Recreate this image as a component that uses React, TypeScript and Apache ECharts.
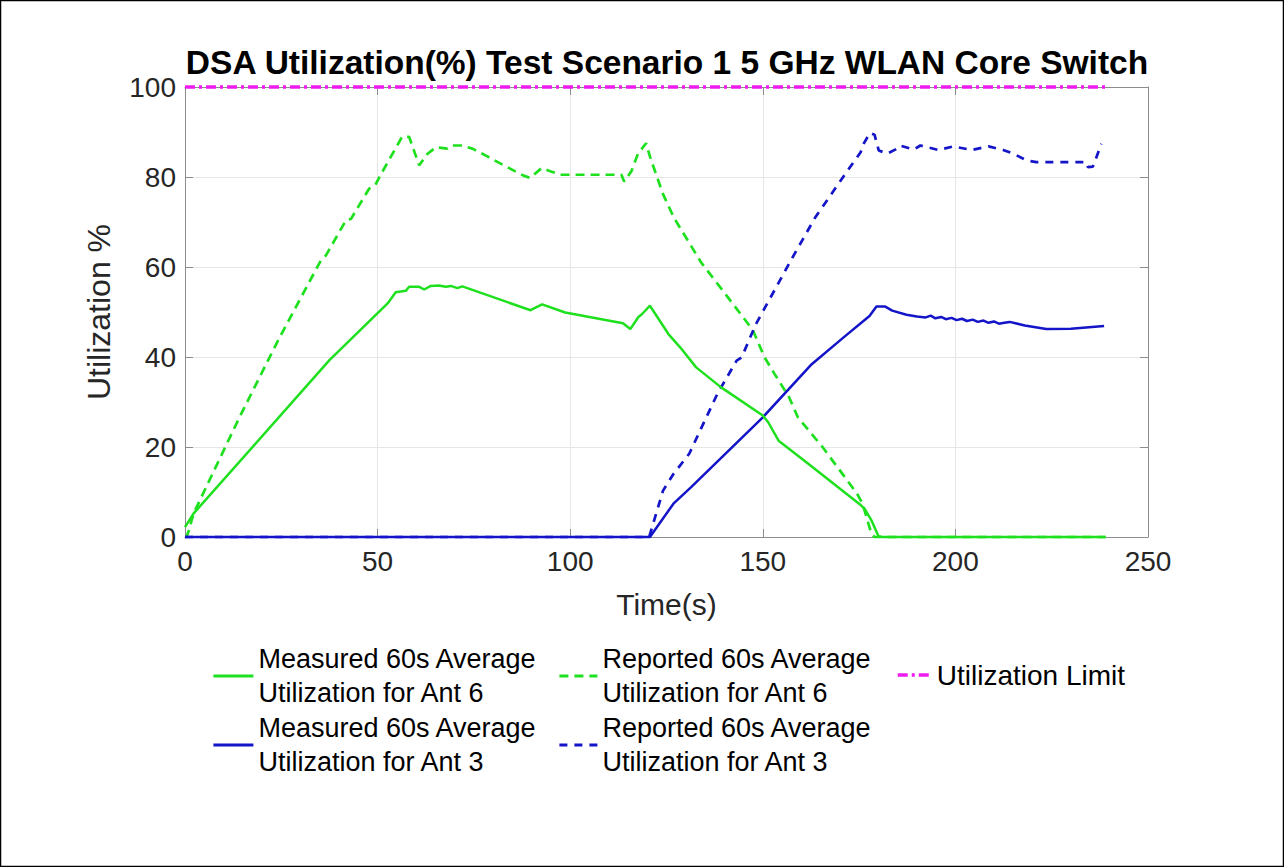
import React, { useEffect, useRef } from "react";
import * as echarts from "echarts";

// ---- data ----
const titleText = "DSA Utilization(%) Test Scenario 1 5 GHz WLAN Core Switch";
const xTicks = [0, 50, 100, 150, 200, 250];
const yTicks = [0, 20, 40, 60, 80, 100];

const seriesNames = [
  "Measured 60s Average\nUtilization for Ant 6",
  "Reported 60s Average\nUtilization for Ant 6",
  "Measured 60s Average\nUtilization for Ant 3",
  "Reported 60s Average\nUtilization for Ant 3",
  "Utilization Limit",
];

const measured6T = [0, 2.2, 37.5, 52.6, 54.7, 57.3, 58.2, 60.8, 62.1, 63.8, 65.9, 67.7, 69.0, 70.7, 72.0, 89.7, 92.7, 98.7, 113.7, 115.6, 117.7, 118.6, 120.7, 125.5, 128.6, 132.7, 139.1, 150.0, 151.4, 154.1, 161.8, 175.0, 176.4, 178.2, 180.0, 181.0, 239.0];
const measured6V = [2.2, 5.2, 39.3, 51.9, 54.4, 54.7, 55.6, 55.6, 55.0, 55.8, 55.9, 55.6, 55.8, 55.3, 55.7, 50.4, 51.7, 49.9, 47.5, 46.2, 48.9, 49.5, 51.4, 45.1, 42.1, 37.7, 33.3, 27.0, 25.5, 21.4, 16.3, 7.4, 6.3, 3.7, 0.2, 0, 0];

const reported6T = [0, 0.4, 1.3, 1.7, 2.6, 14.2, 22.0, 24.6, 35.3, 36.6, 41.8, 43.1, 47.8, 49.4, 50.8, 56.4, 58.2, 60.8, 62.9, 65.1, 68.1, 69.4, 71.9, 74.6, 78.0, 83.2, 87.9, 89.6, 92.6, 94.8, 97.4, 113.3, 114.0, 115.9, 117.6, 119.7, 120.9, 124.1, 126.9, 134.0, 140.9, 147.4, 150.4, 153.0, 156.8, 159.1, 165.5, 174.5, 175.9, 178.2, 179.0, 239.0];
const reported6V = [0, 0, 2.2, 3.7, 5.9, 26.7, 40.0, 44.4, 61.5, 62.6, 70.4, 70.7, 77.4, 78.2, 80.5, 89.0, 88.9, 82.6, 85.1, 86.6, 86.3, 87.0, 87.0, 86.3, 84.8, 82.4, 80.3, 79.8, 82.0, 81.3, 80.5, 80.5, 79.0, 81.3, 85.2, 87.5, 84.0, 76.2, 71.0, 61.0, 53.3, 46.0, 40.0, 36.3, 31.1, 26.6, 20.0, 9.6, 7.4, 0.7, 0, 0];

const measured3T = [0, 120.7, 126.8, 131.4, 150.0, 162.7, 170.9, 177.7, 179.5, 181.8, 183.6, 187.3, 190.0, 192.3, 193.6, 194.8, 196.3, 197.5, 199.0, 200.3, 201.7, 203.0, 204.5, 205.8, 207.3, 208.6, 210.0, 211.3, 212.7, 214.1, 218.0, 223.6, 230.0, 238.6];
const measured3V = [0, 0, 7.4, 11.1, 26.6, 38.4, 44.3, 49.1, 51.2, 51.2, 50.3, 49.4, 49.0, 48.8, 49.2, 48.6, 48.9, 48.4, 48.7, 48.2, 48.5, 48.0, 48.3, 47.8, 48.1, 47.6, 47.9, 47.4, 47.6, 47.8, 47.0, 46.2, 46.3, 46.9];

const reported3T = [0, 120.5, 124.1, 126.8, 130.9, 138.2, 143.2, 144.5, 148.2, 157.7, 163.6, 171.9, 175.4, 176.2, 177.8, 179.0, 180.1, 182.3, 184.9, 185.6, 189.2, 190.9, 195.6, 199.5, 204.2, 208.6, 212.4, 215.0, 218.5, 221.0, 234.0, 234.4, 235.7, 237.9];
const reported3V = [0, 0, 10.3, 14.0, 18.5, 31.8, 39.2, 39.9, 47.3, 62.1, 71.0, 81.3, 85.5, 87.4, 89.8, 89.4, 85.9, 85.2, 86.3, 87.0, 86.1, 87.0, 86.0, 86.8, 86.0, 86.8, 86.0, 85.2, 83.7, 83.3, 83.3, 82.2, 82.3, 87.4];

const limitT = [0, 239];
const limitV = [100, 100];

const GREEN = "#1fe01f";
const BLUE = "#1414c8";
const MAGENTA = "#ee1bee";
const FONT = "'Liberation Sans', Arial, Helvetica, sans-serif";

const zip = (t: number[], v: number[]) => t.map((x, i) => [x, v[i]]);

export default function App() {
  const ref = useRef<HTMLDivElement>(null);
  useEffect(() => {
    if (!ref.current) return;
    const chart = echarts.init(ref.current, null, { renderer: "svg", width: 1284, height: 867 });
    const lineSeries = (name: string, data: number[][], color: string, type: any, width: number, z: number) => ({
      type: "line",
      name,
      data,
      symbol: "none",
      showSymbol: false,
      clip: false,
      z,
      itemStyle: { color },
      lineStyle: { color, width, type },
    });
    const legendText = { fontFamily: FONT, fontSize: 27, color: "#000", lineHeight: 34 };
    const hiddenSymbol = { opacity: 0 };
    chart.setOption({
      animation: false,
      backgroundColor: "#fff",
      grid: { left: 185, top: 87, width: 963, height: 450, show: false },
      graphic: [
        { type: "rect", shape: { x: 0.5, y: 0.5, width: 1283, height: 866 }, style: { fill: "none", stroke: "#000", lineWidth: 1.5 }, silent: true },
        {
          type: "text",
          x: 667,
          y: 62,
          style: { text: titleText, align: "center", verticalAlign: "middle", font: `bold 33.5px ${FONT}`, fill: "#000" },
        },
      ],
      legend: [
        {
          data: [seriesNames[0], seriesNames[2]],
          orient: "vertical",
          left: 207,
          top: 637,
          itemWidth: 40,
          itemHeight: 14,
          itemGap: 1,
          itemStyle: hiddenSymbol,
          lineStyle: { width: 2.8 },
          textStyle: legendText,
          selectedMode: false,
        },
        {
          data: [seriesNames[1], seriesNames[3]],
          orient: "vertical",
          left: 553,
          top: 637,
          itemWidth: 38,
          itemHeight: 14,
          itemGap: 1,
          itemStyle: hiddenSymbol,
          lineStyle: { width: 2.8 },
          textStyle: legendText,
          selectedMode: false,
        },
        {
          data: [seriesNames[4]],
          orient: "vertical",
          left: 891,
          top: 653,
          itemWidth: 34,
          itemHeight: 14,
          itemStyle: hiddenSymbol,
          lineStyle: { width: 3.5 },
          textStyle: { ...legendText, fontSize: 28 },
          selectedMode: false,
        },
      ],
      xAxis: [
        {
          type: "value",
          min: xTicks[0],
          max: xTicks[xTicks.length - 1],
          interval: 50,
          name: "Time(s)",
          nameLocation: "middle",
          nameGap: 52,
          nameTextStyle: { fontFamily: FONT, fontSize: 30, color: "#262626" },
          axisLine: { show: true, onZero: false, lineStyle: { color: "#8c8c8c", width: 1 } },
          axisTick: { show: true, inside: true, length: 8, lineStyle: { color: "#8c8c8c" } },
          axisLabel: { fontFamily: FONT, fontSize: 28, color: "#262626", margin: 10 },
          splitLine: { show: true, lineStyle: { color: "#e6e6e6", width: 1 } },
        },
        {
          type: "value",
          position: "top",
          min: xTicks[0],
          max: xTicks[xTicks.length - 1],
          interval: 50,
          axisLine: { show: true, onZero: false, lineStyle: { color: "#8c8c8c", width: 1 } },
          axisTick: { show: true, inside: true, length: 8, lineStyle: { color: "#8c8c8c" } },
          axisLabel: { show: false },
          splitLine: { show: false },
        },
      ],
      yAxis: [
        {
          type: "value",
          min: yTicks[0],
          max: yTicks[yTicks.length - 1],
          interval: 20,
          name: "Utilization %",
          nameLocation: "middle",
          nameGap: 70,
          nameTextStyle: { fontFamily: FONT, fontSize: 32, color: "#262626" },
          axisLine: { show: true, onZero: false, lineStyle: { color: "#8c8c8c", width: 1 } },
          axisTick: { show: true, inside: true, length: 8, lineStyle: { color: "#8c8c8c" } },
          axisLabel: { fontFamily: FONT, fontSize: 28, color: "#262626", margin: 9 },
          splitLine: { show: true, lineStyle: { color: "#e6e6e6", width: 1 } },
        },
        {
          type: "value",
          position: "right",
          min: yTicks[0],
          max: yTicks[yTicks.length - 1],
          interval: 20,
          axisLine: { show: true, onZero: false, lineStyle: { color: "#8c8c8c", width: 1 } },
          axisTick: { show: true, inside: true, length: 8, lineStyle: { color: "#8c8c8c" } },
          axisLabel: { show: false },
          splitLine: { show: false },
        },
      ],
      series: [
        lineSeries(seriesNames[0], zip(measured6T, measured6V), GREEN, "solid", 2.5, 3),
        lineSeries(seriesNames[1], zip(reported6T, reported6V), GREEN, [9, 6], 2.7, 2),
        lineSeries(seriesNames[2], zip(measured3T, measured3V), BLUE, "solid", 2.5, 2),
        lineSeries(seriesNames[3], zip(reported3T, reported3V), BLUE, [8, 7], 2.7, 2),
        lineSeries(seriesNames[4], zip(limitT, limitV), MAGENTA, [10, 4, 3, 4], 3.5, 4),
      ],
    });
    return () => chart.dispose();
  }, []);
  return (
    <div
      ref={ref}
      style={{ position: "absolute", left: 0, top: 0, width: 1284, height: 867, background: "#fff" }}
    />
  );
}
